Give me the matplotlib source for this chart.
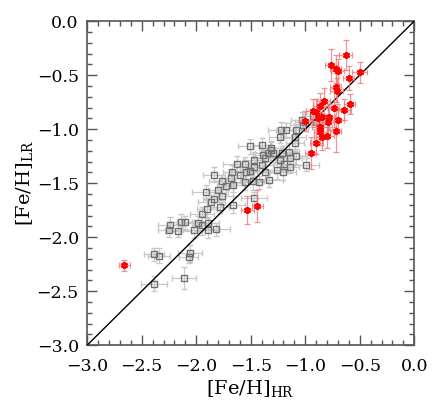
import matplotlib
matplotlib.use('Agg')
import matplotlib.pyplot as plt
from matplotlib.ticker import MultipleLocator

# low-resolution vs high-resolution metallicities
gray_x = [-2.39, -2.11, -2.39, -2.34, -2.06, -2.07, -2.25, -2.17, -2.02, -1.89,
          -1.82, -2.24, -2.14, -2.10, -1.98, -1.95, -1.89, -1.95, -1.90, -1.86,
          -1.84, -1.78, -1.66, -1.76, -1.91, -1.80, -1.84, -1.76, -1.68, -1.60,
          -1.66, -1.73, -1.47, -1.545, -1.51, -1.37, -1.33, -1.48, -1.42, -1.55,
          -1.67, -1.51, -1.47, -1.555, -1.63, -1.40, -1.47, -1.39, -1.37, -1.40,
          -1.34, -1.30, -1.315, -1.31, -1.26, -1.20, -1.23, -1.19, -1.14, -1.14,
          -1.08, -0.99, -1.15, -1.21, -1.23, -1.18, -1.22, -1.095, -1.095, -1.08,
          -1.03, -1.00, -1.02, -0.90, -0.86, -0.93]
gray_y = [-2.43, -2.38, -2.16, -2.17, -2.15, -2.18, -1.93, -1.94, -1.93, -1.935,
          -1.926, -1.884, -1.863, -1.86, -1.873, -1.89, -1.87, -1.79, -1.74, -1.676,
          -1.65, -1.72, -1.70, -1.62, -1.58, -1.56, -1.42, -1.48, -1.45, -1.42,
          -1.52, -1.53, -1.64, -1.40, -1.39, -1.40, -1.47, -1.48, -1.49, -1.49,
          -1.395, -1.16, -1.29, -1.32, -1.32, -1.33, -1.35, -1.24, -1.27, -1.15,
          -1.225, -1.225, -1.19, -1.17, -1.38, -1.40, -1.29, -1.32, -1.27, -1.35,
          -1.25, -1.33, -1.21, -1.225, -1.07, -1.01, -1.01, -1.07, -1.13, -1.01,
          -0.917, -0.93, -0.96, -0.93, -0.98, -0.88]
gray_xerr = [0.12, 0.11, 0.09, 0.10, 0.11, 0.09, 0.10, 0.12, 0.10, 0.09,
             0.13, 0.11, 0.10, 0.08, 0.12, 0.09, 0.10, 0.11, 0.09, 0.12,
             0.10, 0.08, 0.11, 0.10, 0.13, 0.09, 0.10, 0.12, 0.09, 0.11,
             0.10, 0.08, 0.12, 0.10, 0.09, 0.11, 0.13, 0.10, 0.09, 0.12,
             0.08, 0.11, 0.10, 0.09, 0.12, 0.10, 0.11, 0.09, 0.10, 0.08,
             0.12, 0.10, 0.09, 0.11, 0.10, 0.12, 0.09, 0.10, 0.11, 0.08,
             0.10, 0.12, 0.09, 0.11, 0.10, 0.09, 0.12, 0.10, 0.08, 0.11,
             0.10, 0.09, 0.12, 0.10, 0.11, 0.09]
gray_yerr = [0.07, 0.10, 0.06, 0.07, 0.08, 0.06, 0.07, 0.06, 0.08, 0.07,
             0.06, 0.07, 0.08, 0.06, 0.07, 0.09, 0.06, 0.07, 0.08, 0.06,
             0.07, 0.06, 0.08, 0.07, 0.06, 0.08, 0.07, 0.06, 0.07, 0.08,
             0.06, 0.07, 0.06, 0.08, 0.07, 0.06, 0.07, 0.08, 0.06, 0.07,
             0.06, 0.07, 0.08, 0.06, 0.07, 0.06, 0.08, 0.07, 0.06, 0.07,
             0.08, 0.06, 0.07, 0.06, 0.08, 0.07, 0.06, 0.07, 0.08, 0.06,
             0.07, 0.06, 0.08, 0.07, 0.06, 0.07, 0.08, 0.06, 0.07, 0.06,
             0.08, 0.07, 0.06, 0.07, 0.08, 0.06]

red_x = [-0.63, -0.76, -0.72, -0.70, -0.50, -0.60, -0.72, -0.71, -0.83, -0.59,
         -0.86, -0.93, -0.74, -0.64, -0.90, -0.85, -0.88, -0.78, -0.70, -1.00,
         -0.79, -0.865, -0.86, -0.72, -0.80, -0.85, -0.90, -0.95, -1.44, -1.53,
         -2.66]
red_y = [-0.31, -0.405, -0.447, -0.466, -0.475, -0.528, -0.614, -0.645, -0.738, -0.766,
         -0.787, -0.83, -0.80, -0.818, -0.84, -0.89, -0.90, -0.89, -0.917, -0.923,
         -0.93, -0.98, -1.025, -1.016, -1.06, -1.07, -1.127, -1.22, -1.71, -1.75,
         -2.26]
red_xerr = [0.06, 0.06, 0.05, 0.06, 0.07, 0.05, 0.05, 0.06, 0.06, 0.05,
            0.07, 0.06, 0.05, 0.06, 0.05, 0.06, 0.07, 0.05, 0.06, 0.06,
            0.05, 0.07, 0.06, 0.05, 0.06, 0.07, 0.06, 0.05, 0.05, 0.06,
            0.05]
red_yerr = [0.14, 0.15, 0.13, 0.12, 0.10, 0.11, 0.13, 0.12, 0.12, 0.09,
            0.12, 0.11, 0.18, 0.10, 0.12, 0.14, 0.11, 0.12, 0.10, 0.09,
            0.13, 0.11, 0.12, 0.20, 0.11, 0.12, 0.10, 0.15, 0.15, 0.13,
            0.05]

ticks = [-3.0, -2.5, -2.0, -1.5, -1.0, -0.5, 0.0]
tick_labels = ['\u22123.0', '\u22122.5', '\u22122.0', '\u22121.5', '\u22121.0', '\u22120.5', '0.0']

plt.rcParams['font.family'] = 'DejaVu Serif'
plt.rcParams['mathtext.fontset'] = 'dejavuserif'

fig = plt.figure(figsize=(4.36, 4.07), dpi=100)
ax = fig.add_axes([0.2, 0.152, 0.75, 0.796])

ax.errorbar(gray_x, gray_y, xerr=gray_xerr, yerr=gray_yerr, fmt='s',
            ms=5.0, mfc='none', mec='#707070', mew=1.0,
            ecolor='#c8c8c8', elinewidth=0.9, capsize=2.2, capthick=0.9,
            zorder=2)
ax.plot([-3, 0], [-3, 0], color='black', lw=1.0, zorder=3)
ax.errorbar(red_x, red_y, xerr=red_xerr, yerr=red_yerr, fmt='none',
            ecolor='#f07878', elinewidth=0.9, capsize=2.2, capthick=0.9,
            alpha=0.8, zorder=4)
ax.plot(red_x, red_y, ls='none', marker=(6, 2, 0), ms=5.0, mew=1.4,
        color='red', zorder=5)

ax.set_xlim(-3, 0)
ax.set_ylim(-3, 0)
ax.set_xticks(ticks)
ax.set_xticklabels(tick_labels)
ax.set_yticks(ticks)
ax.set_yticklabels(tick_labels)
ax.xaxis.set_minor_locator(MultipleLocator(0.1))
ax.yaxis.set_minor_locator(MultipleLocator(0.1))
ax.tick_params(which='both', direction='in', top=True, right=True,
               color='#555555', width=1.0)
ax.tick_params(which='major', length=7, labelsize=12.5)
ax.tick_params(axis='x', which='major', pad=9)
ax.tick_params(axis='y', which='major', pad=6)
ax.tick_params(which='minor', length=3.5)
for side in ax.spines.values():
    side.set_color('#555555')
    side.set_linewidth(1.2)

ax.set_xlabel(r'[Fe/H]$_{\rm HR}$', fontsize=14)
ax.set_ylabel(r'[Fe/H]$_{\rm LR}$', fontsize=14)
ax.xaxis.set_label_coords(0.5, -0.1)
ax.yaxis.set_label_coords(-0.16, 0.5)

fig.savefig('out.png', dpi=100)
